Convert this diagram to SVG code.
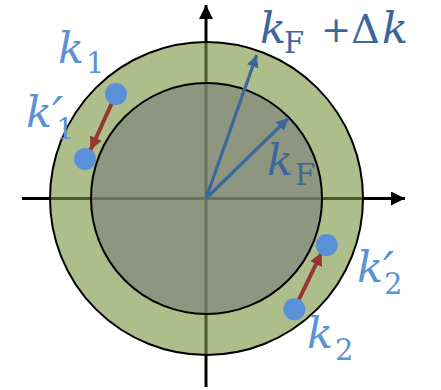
<svg xmlns="http://www.w3.org/2000/svg" width="441" height="390" viewBox="0 0 441 390">
<style>
.axis{stroke:#000;stroke-width:3;fill:none}
.vec{stroke:#3b679c;stroke-width:3.2;fill:none}
.mv{stroke:#973535;stroke-width:4;fill:none}
.dot{fill:#5a90d8}
.lb{font-family:"DejaVu Serif","Liberation Serif",serif;fill:#5b92d6}
.ld{font-family:"DejaVu Serif","Liberation Serif",serif;fill:#3b679c}
.it{font-style:italic;font-size:43px}
.sub{font-size:29px}
.pr{font-size:50px;font-style:italic}
</style>
<defs>
<marker id="ah" viewBox="0 0 10 10" refX="10" refY="5" markerWidth="14" markerHeight="14" markerUnits="userSpaceOnUse" orient="auto"><path d="M0,0 L10,5 L0,10 Z" fill="#000"/></marker>
<marker id="bh" viewBox="0 0 10 10" refX="10" refY="5" markerWidth="13" markerHeight="12" markerUnits="userSpaceOnUse" orient="auto"><path d="M0,0 L10,5 L0,10 Z" fill="#3b679c"/></marker>
<marker id="rh" viewBox="0 0 10 10" refX="10" refY="5" markerWidth="13" markerHeight="13" markerUnits="userSpaceOnUse" orient="auto"><path d="M0,0 L10,5 L0,10 Z" fill="#973535"/></marker>
</defs>
<g id="connectors">
<line class="axis" x1="22" y1="198.5" x2="405" y2="198.5" marker-end="url(#ah)"/>
<line class="axis" x1="206" y1="387" x2="206" y2="5" marker-end="url(#ah)"/>
</g>
<g id="outer">
<circle cx="206.5" cy="198.5" r="156.5" fill="#799442" fill-opacity="0.61" stroke="#000" stroke-width="2"/>
</g>
<g id="inner">
<circle cx="206.5" cy="198.5" r="115.5" fill="#7e7f7a" fill-opacity="0.64" stroke="#000" stroke-width="2"/>
</g>
<g id="vectors">
<line class="vec" x1="206" y1="198.5" x2="256.7" y2="55" marker-end="url(#bh)"/>
<line class="vec" x1="206" y1="198.5" x2="288.5" y2="118" marker-end="url(#bh)"/>
<line class="mv" x1="116" y1="94" x2="90.5" y2="150" marker-end="url(#rh)"/>
<line class="mv" x1="294.3" y1="309" x2="321.7" y2="252.5" marker-end="url(#rh)"/>
</g>
<g id="k1"><circle class="dot" cx="116" cy="94" r="11"/>
<text class="lb"><tspan class="it" x="58" y="63">k</tspan><tspan class="sub" x="86" y="73">1</tspan></text></g>
<g id="k1p"><circle class="dot" cx="85" cy="159" r="11"/>
<text class="lb"><tspan class="it" x="26" y="127">k</tspan><tspan class="pr" x="52" y="133">′</tspan><tspan class="sub" x="56" y="139">1</tspan></text></g>
<g id="k2"><circle class="dot" cx="294.3" cy="309.3" r="11"/>
<text class="lb"><tspan class="it" x="307" y="348">k</tspan><tspan class="sub" x="335" y="360">2</tspan></text></g>
<g id="k2p"><circle class="dot" cx="326.7" cy="245" r="11"/>
<text class="lb"><tspan class="it" x="357" y="282">k</tspan><tspan class="pr" x="383" y="288">′</tspan><tspan class="sub" x="384" y="294">2</tspan></text></g>
<g id="kF"><text class="ld"><tspan class="it" x="267" y="175">k</tspan><tspan class="sub" x="295" y="185">F</tspan></text></g>
<g id="kFdk"><text class="ld"><tspan class="it" x="260" y="43">k</tspan><tspan class="sub" x="284" y="53">F</tspan><tspan style="font-size:36px" x="321" y="42">+</tspan><tspan style="font-size:40px" x="351" y="43">Δ</tspan><tspan class="it" x="382" y="43">k</tspan></text></g>
</svg>
